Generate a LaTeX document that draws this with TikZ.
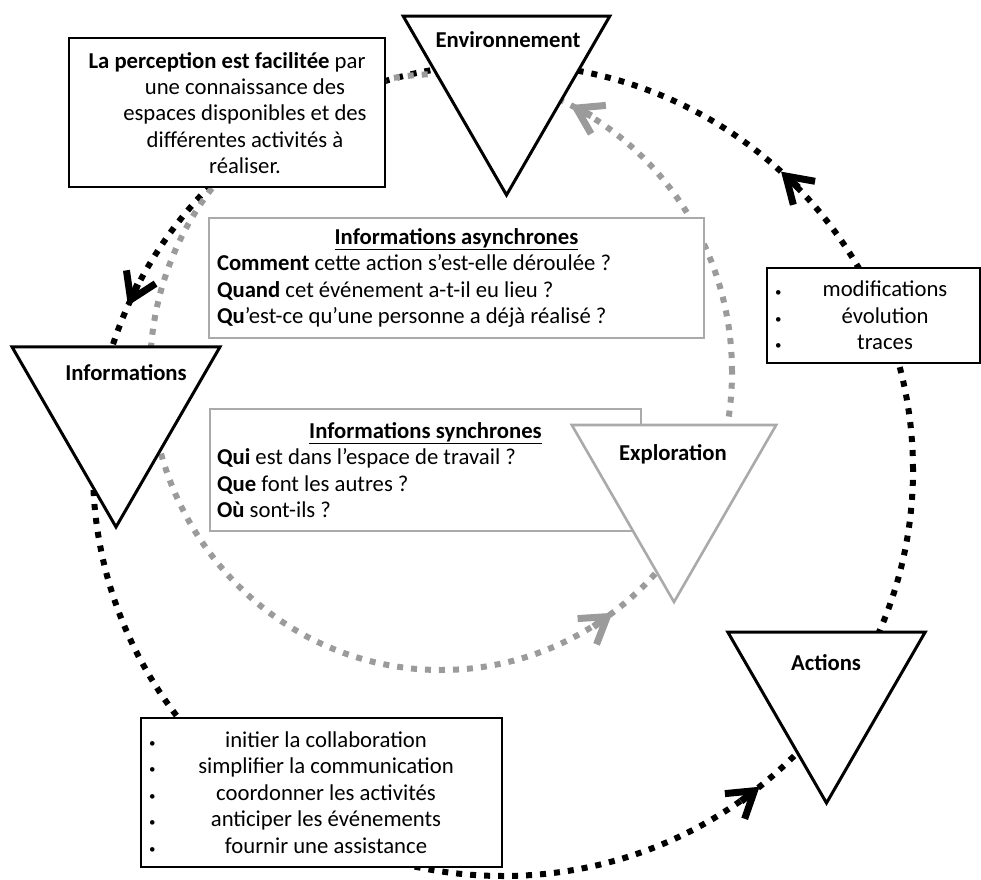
\documentclass[tikz,border=0pt]{standalone}
\usepackage{fontspec}
\setmainfont{Carlito}
\usetikzlibrary{shapes.geometric,decorations.markings}
\definecolor{dotgray}{RGB}{155,155,155}
\definecolor{linegray}{RGB}{170,170,170}

\begin{document}
\begin{tikzpicture}[x=1pt, y=1pt,
  txt/.style={font=\fontsize{22.7}{26.4}\selectfont},
  lbl/.style={font=\fontsize{22.7}{26.4}\selectfont\bfseries},
  tri/.style={regular polygon, regular polygon sides=3, shape border rotate=180,
    draw, fill=white, line width=3pt, inner sep=0pt},
  box/.style={txt, draw, fill=white, line width=2.8pt, inner sep=0pt, align=flush left},
  ring/.style={line width=6pt, dash pattern=on 6pt off 8pt},
  barb/.style={solid, line width=7pt, line join=miter}]
\useasboundingbox (0,0) rectangle (981,879);

% Parameters
\def\bulletdot{{\fontsize{13}{13}\selectfont\textbullet}}
\def\headmark{\draw[barb] (-29pt,16pt) -- (-4pt,0) -- (-29pt,-16pt);
  \draw[barb] (-21pt,0) -- (-5pt,0);}

% === Rings ===
\coordinate (blk) at (503,409);
\coordinate (gry) at (441,507);

\draw[ring, black, postaction={decorate}, decoration={markings,
    mark=at position 0.130 with {\headmark},
    mark=at position 0.433 with {\headmark},
    mark=at position 0.857 with {\headmark}}]
  ([xshift=410pt]blk) arc[start angle=0, end angle=360, x radius=410pt, y radius=406pt];

\draw[ring, dotgray, postaction={decorate}, decoration={markings,
    mark=at position 0.176 with {\headmark},
    mark=at position 0.848 with {\headmark}}]
  ([xshift=291pt]gry) arc[start angle=0, end angle=360, x radius=291pt, y radius=298pt];

% === Boxes ===
\node[box, minimum width=316pt, minimum height=149pt] (percep) at (227,766.5) {};
\node[txt, align=flush center] (percep-txt) at (245,766) {%
  \hspace*{-36pt}\textbf{La perception est facilitée} par\\
  une connaissance des\\
  espaces disponibles et des\\
  différentes activités à\\
  réaliser.};

\node[box, draw=linegray, minimum width=495pt, minimum height=120pt, text width=479pt]
  (async) at (456.5,601) {%
  \makebox[\linewidth]{\underline{\textbf{Informations asynchrones}}}\\
  \textbf{Comment} cette action s’est-elle déroulée ?\\
  \textbf{Quand} cet événement a-t-il eu lieu ?\\
  \textbf{Qu}’est-ce qu’une personne a déjà réalisé ?};

\node[box, draw=linegray, minimum width=431pt, minimum height=122pt, text width=417pt]
  (sync) at (425.5,409) {%
  \makebox[\linewidth]{\underline{\textbf{Informations synchrones}}}\\
  \textbf{Qui} est dans l’espace de travail ?\\
  \textbf{Que} font les autres ?\\
  \textbf{Où} sont-ils ?};

\node[box, minimum width=213pt, minimum height=95pt, text width=197pt]
  (mods) at (873.5,563.5) {%
  \makebox[23pt][l]{\bulletdot}\makebox[174pt]{modifications}\\
  \makebox[23pt][l]{\bulletdot}\makebox[174pt]{évolution}\\
  \makebox[23pt][l]{\bulletdot}\makebox[174pt]{traces}};

\node[box, minimum width=361pt, minimum height=149pt, text width=345pt]
  (tasks) at (321.5,86.5) {%
  \makebox[9pt][l]{\bulletdot}\makebox[336pt]{initier la collaboration}\\
  \makebox[9pt][l]{\bulletdot}\makebox[336pt]{simplifier la communication}\\
  \makebox[9pt][l]{\bulletdot}\makebox[336pt]{coordonner les activités}\\
  \makebox[9pt][l]{\bulletdot}\makebox[336pt]{anticiper les événements}\\
  \makebox[9pt][l]{\bulletdot}\makebox[336pt]{fournir une assistance}};

% === Triangles ===
\foreach \name/\x/\y/\d in {env/506.5/803.3/238.7, info/116/472/240, act/826.5/190/228}{
  \node[tri, minimum size=\d pt] (\name) at (\x,\y) {};
}
\node[tri, draw=linegray, line width=2.6pt, minimum size=236pt] (expl) at (674,395) {};

% === Labels ===
\foreach \name/\x/\y/\txt in {env/508/831/Environnement, info/126/498/Informations,
    expl/673/419/Exploration, act/826/209/Actions}{
  \node[lbl, anchor=base] (\name-txt) at (\x,\y) {\txt};
}

\end{tikzpicture}
\end{document}
